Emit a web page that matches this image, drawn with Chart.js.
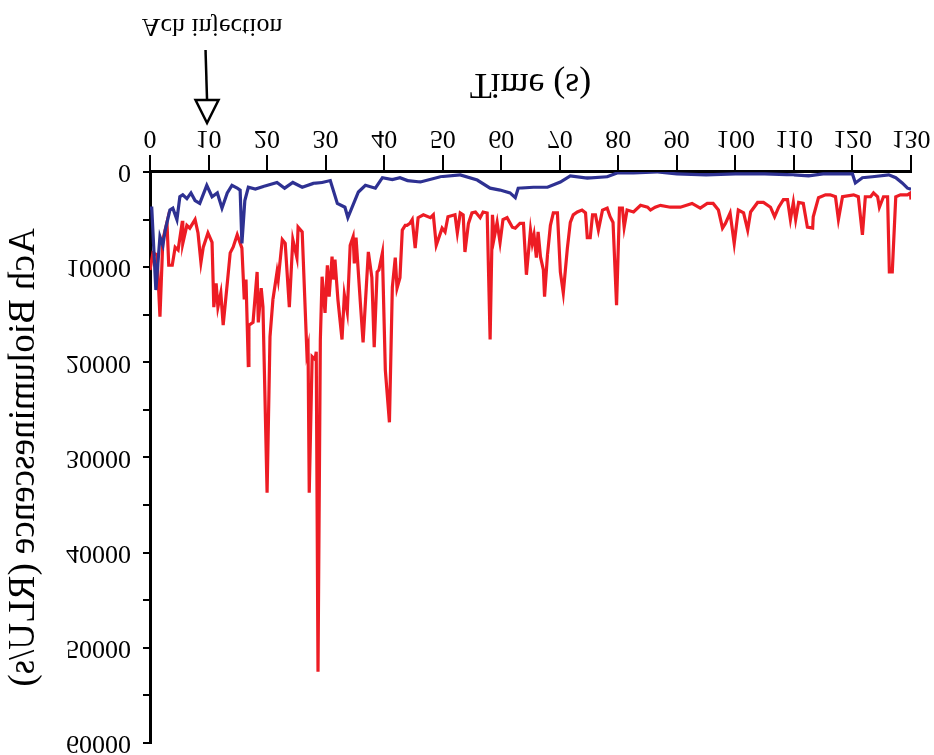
<!DOCTYPE html>
<html>
<head>
<meta charset="utf-8">
<script src="https://cdn.jsdelivr.net/npm/chart.js@4/dist/chart.umd.min.js"></script>
<style>
html,body{margin:0;padding:0;background:#fff;}
#wrap{width:934px;height:755px;transform:scaleY(-1);transform-origin:50% 50%;background:#fff;}
canvas{display:block;}
</style>
</head>
<body>
<div id="wrap"><canvas id="c" width="934" height="755"></canvas></div>
<script>
// ---- data (time in s, bioluminescence in RLU/s) ----
const timeRed = [0,0.5,1.2,1.7,2.2,2.9,3.2,3.8,4.3,4.8,
5.5,5.6,6.3,6.8,7.7,8.2,8.7,9.1,9.9,10.6,
10.9,11.3,11.6,12.1,12.5,13.2,13.7,14.2,14.9,15.7,
16.1,16.4,16.8,16.9,17.6,18.3,18.5,19.0,19.3,20.0,
20.5,21.0,21.7,21.9,22.6,23.1,23.8,24.4,25.1,25.3,
26.0,26.8,27.0,27.2,27.7,28.2,28.4,28.7,29.1,29.4,
29.9,30.3,30.6,31.1,31.3,31.6,32.1,32.8,33.2,33.7,
34.2,34.7,34.9,35.2,35.9,36.4,37.3,37.9,38.3,38.8,
39.1,39.7,40.2,40.9,41.4,41.9,42.2,42.7,43.1,43.6,
43.9,44.4,44.8,45.3,45.8,46.7,47.9,48.4,48.9,49.9,
50.4,50.9,52.1,52.5,53.0,53.5,53.8,54.4,55.0,55.6,
56.4,56.9,57.6,58.1,58.5,58.8,59.3,59.8,60.3,61.0,
61.9,62.4,63.2,63.8,64.3,65.0,65.3,65.6,66.0,66.3,
66.7,67.2,67.4,67.9,68.4,68.9,69.6,70.1,70.6,71.3,
71.8,72.3,73.0,73.8,74.4,74.7,75.2,75.6,76.1,76.6,
77.3,78.1,78.6,79.1,79.7,80.2,80.7,81.0,81.5,82.6,
83.8,85.0,85.5,86.3,87.2,88.9,90.6,92.6,94.0,95.2,
96.2,97.1,97.8,98.3,99.1,99.8,100.5,101.4,102.1,102.6,
103.8,104.8,106.0,106.7,107.4,108.2,108.9,109.4,109.9,110.3,
110.8,111.6,112.3,113.2,113.3,114.2,115.4,116.2,117.1,117.6,
118.3,120.2,121.0,121.7,122.2,123.1,123.6,124.3,124.6,125.3,
126.0,126.3,126.8,127.4,128.2,129.4,129.9,130.0];

const valueRed = [10300,8500,8700,15200,7100,5300,9800,9800,7900,8200,
5300,7500,5600,5900,5000,6400,9500,7900,6400,7400,
14200,11700,14200,12700,16100,11700,8500,7900,6600,8000,
13400,11300,20500,16100,15800,10500,15800,12200,14200,33700,
17300,13400,10500,11300,7100,7500,14200,7100,9000,5800,
6300,19000,18400,33700,19400,19700,18900,52500,17600,11000,
14800,9800,13100,8900,11300,9200,13400,17600,12900,14700,
7700,6800,9600,6900,13400,17900,8400,11100,18400,10500,
10300,8500,20800,26300,12100,9000,12200,11100,6100,5600,
5600,5400,5000,8000,4800,4500,4800,4500,7700,5900,
6300,4700,4500,6400,4300,4500,8400,5400,4300,4200,
4800,4200,4300,17600,4500,6900,5300,7400,5000,4800,
5800,5900,5400,5400,10800,6100,7500,6600,9000,6300,
8900,10300,13100,8700,5600,4300,4300,10500,12700,8000,
5300,4500,4200,4000,4300,6900,6900,4500,4500,6100,
4000,3800,4700,5300,14000,3800,3800,5800,4000,4200,
3500,3700,4000,3700,3500,3700,3700,3300,3800,3300,
3300,4000,5900,5400,4300,7500,4000,4300,6100,4200,
3200,3200,3700,4700,3700,2900,2900,5000,3200,5000,
3200,3300,5800,5900,4700,2700,2400,2400,2600,5000,
2600,2400,2600,6600,2600,2600,2200,2600,3700,2600,
2600,10500,10500,2600,2400,2400,2200,2900];

const timeBlue = [0,0.3,1.0,1.3,1.7,2.2,2.6,3.4,3.9,4.6,
5.1,5.6,6.3,7.0,7.7,8.5,9.7,10.6,11.5,12.3,
13.2,14.0,14.9,15.4,15.7,16.2,16.8,18.0,19.5,21.7,
23.0,24.4,26.0,27.9,29.4,30.8,32.0,33.3,33.8,35.6,
36.8,38.5,39.7,41.4,42.7,44.0,46.2,49.6,53.0,55.9,
58.1,59.8,61.5,62.4,62.9,65.5,67.9,70.1,71.8,74.7,
78.1,79.8,82.6,86.7,90,95,100,105,110,112.5,
115,120.0,120.5,121.7,123.4,126.2,127.4,128.5,129.4,130];

const valueBlue = [3800,3800,12400,10000,6800,7700,6100,4000,3800,5000,
2600,2400,2800,2200,3000,3300,1400,2600,2200,3800,
2200,1400,1700,1900,7500,3000,1600,1800,1500,1100,
1700,1100,1600,1200,1100,900,3300,3700,4800,2100,
1400,1700,600,800,600,900,1050,500,300,850,
1700,1900,2200,2700,1700,1600,1600,1050,400,650,
500,100,100,0,200,300,200,200,300,400,
200,200,1150,600,500,300,600,1150,1700,1800];

const xTitle = 'Time (s)';
const yTitle = 'Ach Bioluminescence (RLU/s)';
const annotationText = 'Ach injection';
const annotationTime = 10;

// ---- chart ----
const FAMILY = '"Liberation Serif", "Times New Roman", serif';
const tickFont = {family: FAMILY, size: 26};
const xTitleFont = {family: FAMILY, size: 36};
const yTitleFont = {family: FAMILY, size: 37};

const annotationPlugin = {
  id: 'achInjection',
  afterDraw(chart) {
    const ctx = chart.ctx;
    const x = chart.scales.x.getPixelForValue(annotationTime) - 1.5;
    const b = chart.chartArea.bottom;
    ctx.save();
    ctx.strokeStyle = '#000';
    ctx.lineWidth = 2.5;
    ctx.beginPath();
    ctx.moveTo(x - 1.5, b + 122);
    ctx.lineTo(x, b + 72);
    ctx.stroke();
    ctx.beginPath();
    ctx.moveTo(x, b + 49);
    ctx.lineTo(x - 11.5, b + 72);
    ctx.lineTo(x + 11.5, b + 72);
    ctx.closePath();
    ctx.fillStyle = '#fff';
    ctx.fill();
    ctx.stroke();
    ctx.fillStyle = '#000';
    ctx.font = '26px ' + FAMILY;
    ctx.textAlign = 'center';
    ctx.textBaseline = 'alphabetic';
    ctx.fillText(annotationText, x + 5, b + 153);
    ctx.restore();
  }
};

new Chart(document.getElementById('c'), {
  type: 'line',
  data: {
    datasets: [
      {
        label: 'blue',
        data: timeBlue.map((t, i) => ({x: t, y: valueBlue[i]})),
        borderColor: '#2e3192',
        borderWidth: 3.2,
        pointRadius: 0,
        tension: 0,
        fill: false
      },
      {
        label: 'red',
        data: timeRed.map((t, i) => ({x: t, y: valueRed[i]})),
        borderColor: '#ed1c24',
        borderWidth: 3.2,
        pointRadius: 0,
        tension: 0,
        fill: false
      }
    ]
  },
  options: {
    responsive: false,
    animation: false,
    devicePixelRatio: 1,
    layout: {padding: {left: 0, right: 23, top: 12, bottom: 0}},
    plugins: {legend: {display: false}, tooltip: {enabled: false}},
    scales: {
      x: {
        type: 'linear',
        min: 0, max: 130,
        ticks: {stepSize: 10, font: tickFont, color: '#000', padding: 2, maxRotation: 0, autoSkip: false},
        grid: {drawOnChartArea: false, drawTicks: true, tickLength: 17, color: '#000', lineWidth: 2},
        border: {display: true, color: '#000', width: 3},
        title: {display: true, text: xTitle, font: xTitleFont, color: '#000', padding: {top: 0, bottom: 62}},
        afterFit(s) { s.height = 172; s.paddingLeft = 0; s.paddingRight = 0; }
      },
      y: {
        type: 'linear',
        min: 0, max: 60000,
        ticks: {stepSize: 5000, font: tickFont, color: '#000', padding: 12, autoSkip: false,
          callback: v => (v % 10000 === 0 ? String(v) : '')},
        grid: {drawOnChartArea: false, drawTicks: true, tickLength: 7, color: '#000', lineWidth: 2},
        border: {display: true, color: '#000', width: 3},
        title: {display: true, text: yTitle, font: yTitleFont, color: '#000', padding: {top: 2, bottom: 0}},
        afterFit(s) { s.width = 150; s.paddingTop = 0; s.paddingBottom = 0; }
      }
    }
  },
  plugins: [annotationPlugin]
});
</script>
</body>
</html>
